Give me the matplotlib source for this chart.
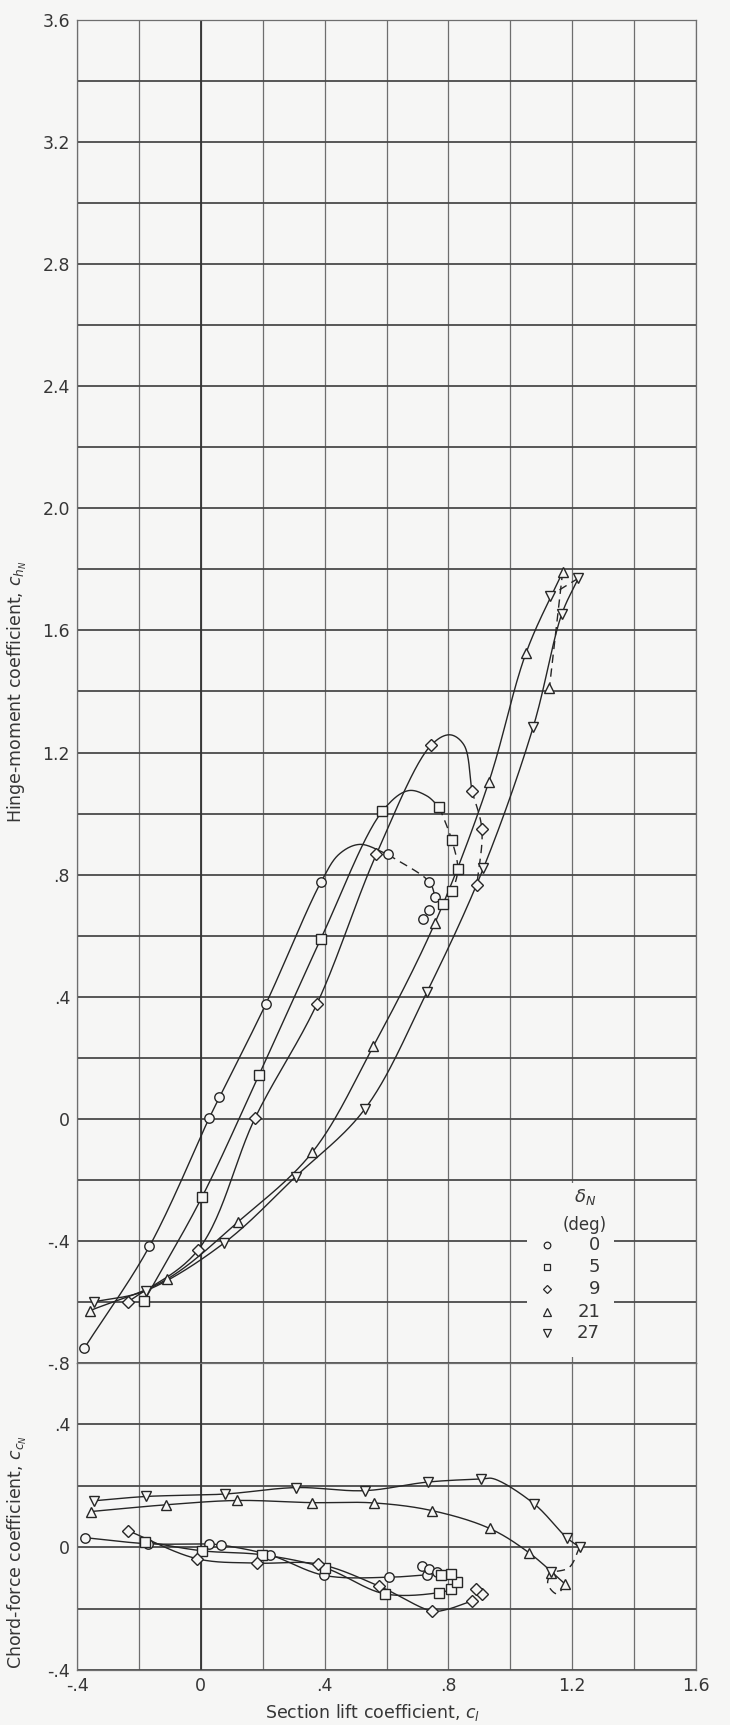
import numpy as np
import matplotlib
matplotlib.use('Agg')
import matplotlib.pyplot as plt
from matplotlib.patches import Rectangle
from matplotlib.ticker import FixedLocator, FixedFormatter

# ---- axis ticks / labels ----
x_ticks = [-0.4, -0.2, 0.0, 0.2, 0.4, 0.6, 0.8, 1.0, 1.2, 1.4, 1.6]
x_labels = ['-.4', '', '0', '', '.4', '', '.8', '', '1.2', '', '1.6']
ch_ticks = [-0.8, -0.6, -0.4, -0.2, 0.0, 0.2, 0.4, 0.6, 0.8, 1.0, 1.2, 1.4,
            1.6, 1.8, 2.0, 2.2, 2.4, 2.6, 2.8, 3.0, 3.2, 3.4, 3.6]
ch_labels = ['-.8', '', '-.4', '', '0', '', '.4', '', '.8', '', '1.2', '',
             '1.6', '', '2.0', '', '2.4', '', '2.8', '', '3.2', '', '3.6']
cc_ticks = [-0.4, -0.2, 0.0, 0.2, 0.4, 0.6]
cc_labels = ['-.4', '', '0', '', '.4', '']

deltas = ['0', '5', '9', '21', '27']

# ---- hinge-moment coefficient (cl, ch_N), test points ----
hinge_0 = [(-0.376, -0.751), (-0.166, -0.418), (0.027, 0.002), (0.060, 0.070),
           (0.210, 0.376), (0.389, 0.777), (0.605, 0.866), (0.738, 0.776),
           (0.758, 0.725), (0.738, 0.683), (0.719, 0.653)]
hinge_5 = [(-0.183, -0.597), (0.004, -0.256), (0.188, 0.144), (0.388, 0.590),
           (0.586, 1.007), (0.771, 1.020), (0.811, 0.912), (0.830, 0.817),
           (0.811, 0.746), (0.782, 0.705)]
hinge_9 = [(-0.236, -0.601), (-0.009, -0.430), (0.176, 0.004), (0.375, 0.376),
           (0.567, 0.866), (0.743, 1.223), (0.876, 1.075), (0.908, 0.948),
           (0.892, 0.765)]
hinge_21 = [(-0.359, -0.629), (-0.110, -0.526), (0.120, -0.338), (0.360, -0.110),
            (0.557, 0.237), (0.757, 0.643), (0.930, 1.102), (1.051, 1.527),
            (1.169, 1.792), (1.126, 1.410)]
hinge_27 = [(-0.345, -0.600), (-0.177, -0.563), (0.074, -0.408), (0.306, -0.190),
            (0.530, 0.032), (0.730, 0.414), (0.913, 0.821), (1.074, 1.284),
            (1.166, 1.653), (1.220, 1.771), (1.128, 1.714)]

# faired curves as drawn on the original (solid, then dashed)
hinge_0_fair = [(-0.376, -0.751), (-0.166, -0.418), (0.027, 0.002), (0.060, 0.070),
                (0.210, 0.376), (0.389, 0.777), (0.448, 0.868), (0.514, 0.899),
                (0.605, 0.866)]
hinge_0_dash = [(0.605, 0.866), (0.738, 0.776), (0.758, 0.725)]
hinge_5_fair = [(-0.183, -0.597), (0.004, -0.256), (0.188, 0.144), (0.388, 0.590),
                (0.586, 1.007), (0.670, 1.075), (0.730, 1.058), (0.771, 1.020)]
hinge_5_dash = [(0.771, 1.020), (0.811, 0.912), (0.830, 0.817), (0.811, 0.746),
                (0.782, 0.705)]
hinge_9_fair = [(-0.236, -0.601), (-0.009, -0.430), (0.176, 0.004), (0.375, 0.376),
                (0.567, 0.866), (0.743, 1.223), (0.805, 1.258), (0.850, 1.225),
                (0.876, 1.075)]
hinge_9_dash = [(0.876, 1.075), (0.908, 0.948), (0.892, 0.765)]
hinge_21_fair = hinge_21[:9]
hinge_21_dash = [(1.169, 1.792), (1.126, 1.410)]
hinge_27_fair = hinge_27[:10]
hinge_27_dash = [(1.220, 1.771), (1.128, 1.714)]

# ---- chord-force coefficient (cl, cc_N), test points ----
chord_0 = [(-0.375, 0.031), (-0.170, 0.011), (0.027, 0.010), (0.065, 0.007),
           (0.222, -0.025), (0.399, -0.092), (0.607, -0.098), (0.731, -0.090),
           (0.715, -0.060), (0.737, -0.071), (0.762, -0.082)]
chord_5 = [(-0.181, 0.018), (0.005, -0.012), (0.199, -0.025), (0.402, -0.068),
           (0.594, -0.152), (0.769, -0.148), (0.809, -0.136), (0.829, -0.112),
           (0.807, -0.087), (0.775, -0.090)]
chord_9 = [(-0.234, 0.053), (-0.011, -0.038), (0.182, -0.052), (0.380, -0.055),
           (0.576, -0.127), (0.746, -0.208), (0.876, -0.175), (0.907, -0.153),
           (0.888, -0.135)]
chord_21 = [(-0.355, 0.116), (-0.112, 0.138), (0.118, 0.152), (0.358, 0.145),
            (0.560, 0.144), (0.747, 0.119), (0.933, 0.061), (1.060, -0.018),
            (1.178, -0.121), (1.130, -0.083)]
chord_27 = [(-0.345, 0.151), (-0.178, 0.165), (0.077, 0.173), (0.308, 0.194),
            (0.530, 0.184), (0.733, 0.212), (0.906, 0.222), (1.078, 0.140),
            (1.182, 0.031), (1.224, 0.000), (1.132, -0.082)]

chord_0_fair = chord_0[:8]
chord_5_fair = chord_5[:8]
chord_9_fair = [(-0.234, 0.053), (-0.011, -0.038), (0.182, -0.052), (0.380, -0.055),
                (0.576, -0.127), (0.746, -0.208), (0.791, -0.204), (0.876, -0.175)]
chord_21_fair = chord_21[:9]
chord_21_dash = [(1.178, -0.121), (1.150, -0.152), (1.121, -0.120), (1.130, -0.083)]
chord_27_fair = [(-0.345, 0.151), (-0.178, 0.165), (0.077, 0.173), (0.308, 0.194),
                 (0.530, 0.184), (0.733, 0.212), (0.906, 0.222), (0.945, 0.223),
                 (1.078, 0.140), (1.182, 0.031), (1.224, 0.000)]
chord_27_dash = [(1.224, 0.000), (1.190, -0.066), (1.132, -0.082)]

BG = '#f6f6f5'
INK = '#262626'
TXT = '#363636'

marker_style = {
    '0': dict(marker='o', ms=6.8),
    '5': dict(marker='s', ms=6.6),
    '9': dict(marker='D', ms=5.8),
    '21': dict(marker='^', ms=7.6),
    '27': dict(marker='v', ms=7.6),
}


def fair(pts, n=30):
    # centripetal catmull-rom through the faired points
    p = np.asarray(pts, float)
    if len(p) < 3:
        return p[:, 0], p[:, 1]
    ext = np.vstack([2 * p[0] - p[1], p, 2 * p[-1] - p[-2]])
    out = []
    for i in range(1, len(ext) - 2):
        p0, p1, p2, p3 = ext[i - 1], ext[i], ext[i + 1], ext[i + 2]
        t0 = 0.0
        t1 = t0 + np.linalg.norm(p1 - p0) ** 0.5
        t2 = t1 + np.linalg.norm(p2 - p1) ** 0.5
        t3 = t2 + np.linalg.norm(p3 - p2) ** 0.5
        t = np.linspace(t1, t2, n)[:, None]
        a1 = (t1 - t) / (t1 - t0) * p0 + (t - t0) / (t1 - t0) * p1
        a2 = (t2 - t) / (t2 - t1) * p1 + (t - t1) / (t2 - t1) * p2
        a3 = (t3 - t) / (t3 - t2) * p2 + (t - t2) / (t3 - t2) * p3
        b1 = (t2 - t) / (t2 - t0) * a1 + (t - t0) / (t2 - t0) * a2
        b2 = (t3 - t) / (t3 - t1) * a2 + (t - t1) / (t3 - t1) * a3
        c = (t2 - t) / (t2 - t1) * b1 + (t - t1) / (t2 - t1) * b2
        out.append(c if i == 1 else c[1:])
    c = np.vstack(out)
    return c[:, 0], c[:, 1]


def draw_series(ax, delta, points, solid, dashed=None):
    x, y = fair(solid)
    ax.plot(x, y, color=INK, lw=1.0, zorder=2)
    if dashed is not None:
        x, y = fair(dashed)
        ax.plot(x, y, color=INK, lw=1.0, ls=(0, (6, 4)), zorder=2)
    pts = np.asarray(points)
    ax.plot(pts[:, 0], pts[:, 1], ls='none', mfc=BG, mec=INK, mew=1.0,
            zorder=3, **marker_style[delta])


def style_axes(ax, yticks, ylabels):
    ax.set_facecolor(BG)
    ax.set_axisbelow(True)
    ax.set_xlim(-0.4, 1.6)
    ax.xaxis.set_major_locator(FixedLocator(x_ticks))
    ax.xaxis.set_major_formatter(FixedFormatter(x_labels))
    ax.yaxis.set_major_locator(FixedLocator(yticks))
    ax.yaxis.set_major_formatter(FixedFormatter(ylabels))
    ax.grid(axis='y', color='#4a4a4a', lw=1.3)
    ax.grid(axis='x', color='#6e6e6e', lw=0.9)
    ax.axvline(0, color='#333333', lw=1.3, zorder=0.6)
    for s in ax.spines.values():
        s.set_color('#6e6e6e')
        s.set_linewidth(0.9)
    ax.tick_params(length=0, labelsize=12.5, labelcolor=TXT, pad=5)


fig = plt.figure(figsize=(7.3, 17.25), dpi=100, facecolor=BG)
ax1 = fig.add_axes([0.1055, 0.2099, 0.848, 0.7785])
ax2 = fig.add_axes([0.1055, 0.0319, 0.848, 0.1780])

style_axes(ax1, ch_ticks, ch_labels)
ax1.set_ylim(-0.8, 3.6)
ax1.tick_params(axis='x', labelbottom=False)
style_axes(ax2, cc_ticks, cc_labels)
ax2.set_ylim(-0.4, 0.6)

draw_series(ax1, '0', hinge_0, hinge_0_fair, hinge_0_dash)
draw_series(ax1, '5', hinge_5, hinge_5_fair, hinge_5_dash)
draw_series(ax1, '9', hinge_9, hinge_9_fair, hinge_9_dash)
draw_series(ax1, '21', hinge_21, hinge_21_fair, hinge_21_dash)
draw_series(ax1, '27', hinge_27, hinge_27_fair, hinge_27_dash)

draw_series(ax2, '0', chord_0, chord_0_fair)
draw_series(ax2, '5', chord_5, chord_5_fair)
draw_series(ax2, '9', chord_9, chord_9_fair)
draw_series(ax2, '21', chord_21, chord_21_fair, chord_21_dash)
draw_series(ax2, '27', chord_27, chord_27_fair, chord_27_dash)

# key, on a blank patch over the grid
ax1.add_patch(Rectangle((1.055, -0.78), 0.28, 0.57, fc=BG, ec='none', zorder=1))
ax1.text(1.241, -0.256, r'$\delta_N$', ha='center', va='center',
         fontsize=13, color=TXT, zorder=4)
ax1.text(1.241, -0.348, '(deg)', ha='center', va='center',
         fontsize=12, color=TXT, zorder=4)
key_y = [-0.414, -0.486, -0.558, -0.633, -0.702]
for d, ky in zip(deltas, key_y):
    st = dict(marker_style[d])
    st['ms'] = st['ms'] * 0.7
    ax1.plot([1.118], [ky], ls='none', mfc=BG, mec=INK, mew=0.9, zorder=4, **st)
    ax1.text(1.29, ky, d, ha='right', va='center', fontsize=13,
             color=TXT, zorder=4)

ax1.set_ylabel(r'Hinge-moment coefficient, $c_{h_N}$', fontsize=12.5, color=TXT)
ax1.yaxis.set_label_coords(-0.078, 0.5)
ax2.set_ylabel(r'Chord-force coefficient, $c_{c_N}$', fontsize=12.5, color=TXT)
ax2.yaxis.set_label_coords(-0.078, 0.384)
ax2.set_xlabel(r'Section lift coefficient, $c_l$', fontsize=12.5, color=TXT)
ax2.xaxis.set_label_coords(0.478, -0.105)

fig.savefig('out.png', dpi=100, facecolor=BG)
